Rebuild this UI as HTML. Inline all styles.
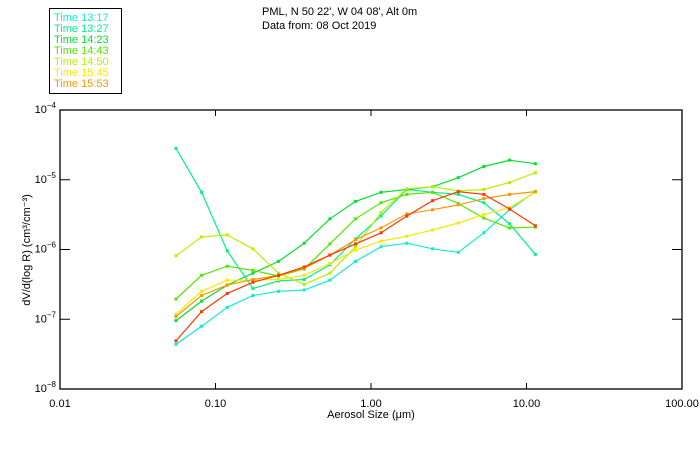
<!DOCTYPE html>
<html><head><meta charset="utf-8">
<style>
body{margin:0;background:#fff;}
svg{display:block;font-family:"Liberation Sans",sans-serif;}
</style></head>
<body>
<svg id="chart" width="700" height="450" viewBox="0 0 700 450">
  <rect x="0" y="0" width="700" height="450" fill="#fff"/>
  <g>
    <rect x="49.5" y="8.5" width="72" height="85" fill="none" stroke="#000" stroke-width="1"/>
    <g id="legendItems" font-size="11"></g>
  </g>
  <text x="262" y="15" font-size="11" fill="#000">PML, N 50 22', W 04 08', Alt 0m</text>
  <text x="262" y="29" font-size="11" fill="#000">Data from: 08 Oct 2019</text>
  <g id="axes"></g>
  <g id="series"></g>
  <text x="371" y="418" font-size="11" text-anchor="middle">Aerosol Size (μm)</text>
  <text transform="translate(30,250) rotate(-90)" font-size="11" text-anchor="middle">dV/d(log R) (cm³/cm⁻³)</text>
</svg>
<script>
const sizes = [0.0557,0.0814,0.119,0.174,0.254,0.372,0.544,0.795,1.16,1.70,2.49,3.64,5.32,7.78,11.4];
const seriesNames = ["Time 13:17","Time 13:27","Time 14:23","Time 14:43","Time 14:50","Time 15:45","Time 15:53","Time 16:05"];
const seriesColors = ["#10ecd0","#00f090","#00e030","#50e800","#b8f000","#f8e800","#f89800","#ff3800"];
// log10 of dV/dlogR
const log1317 = [-7.36,-7.10,-6.83,-6.66,-6.60,-6.58,-6.44,-6.17,-5.96,-5.91,-5.99,-6.04,-5.76,-5.43,-5.17];
const log1327 = [-4.55,-5.18,-6.02,-6.56,-6.45,-6.43,-6.22,-5.85,-5.52,-5.14,-5.18,-5.21,-5.33,-5.63,-6.07];
const log1423 = [-7.02,-6.74,-6.51,-6.34,-6.17,-5.91,-5.56,-5.31,-5.18,-5.14,-5.10,-4.97,-4.81,-4.72,-4.77];
const log1443 = [-6.71,-6.37,-6.24,-6.30,-6.38,-6.28,-5.92,-5.56,-5.33,-5.21,-5.18,-5.34,-5.55,-5.69,-5.68];
const log1450 = [-6.09,-5.82,-5.79,-5.99,-6.34,-6.50,-6.34,-5.96,-5.47,-5.13,-5.10,-5.16,-5.14,-5.04,-4.90];
const log1545 = [-6.93,-6.60,-6.44,-6.44,-6.43,-6.37,-6.20,-6.01,-5.88,-5.81,-5.72,-5.62,-5.50,-5.40,-5.18];
const log1553 = [-6.96,-6.66,-6.51,-6.43,-6.37,-6.27,-6.08,-5.86,-5.69,-5.49,-5.43,-5.36,-5.27,-5.21,-5.17];
const log1605 = [-7.31,-6.89,-6.63,-6.47,-6.37,-6.25,-6.08,-5.92,-5.76,-5.52,-5.30,-5.17,-5.21,-5.42,-5.66];
const allSeries = [log1317,log1327,log1423,log1443,log1450,log1545,log1553,log1605];
const xTickVals = [0.01,0.1,1,10,100];
const xTickLabels = ["0.01","0.10","1.00","10.00","100.00"];
const yTickExps = [-4,-5,-6,-7,-8];

const NS="http://www.w3.org/2000/svg";
const L=60,R=682,T=110,B=389;
function xs(v){return L+(Math.log10(v)+2)/4*(R-L);}
function ys(e){return T+(-4-e)/4*(B-T);}
function mk(tag,attrs,parent){const el=document.createElementNS(NS,tag);for(const k in attrs)el.setAttribute(k,attrs[k]);parent.appendChild(el);return el;}

const axes=document.getElementById('axes');
const frame=mk('rect',{x:L,y:T,width:R-L,height:B-T,fill:'none',stroke:'#000','stroke-width':1.3},axes);


xTickVals.forEach((v,i)=>{
  const x=xs(v);
  const t=mk('line',{x1:x,x2:x,y1:B,y2:B-6,stroke:'#000'},axes);
  
  
  const t2=mk('line',{x1:x,x2:x,y1:T,y2:T+6,stroke:'#000'},axes);
  
  
  const lb=mk('text',{x:x,y:B+18,'font-size':11,'text-anchor':'middle'},axes);
  lb.textContent=xTickLabels[i];
  
  
});
yTickExps.forEach(e=>{
  const y=ys(e);
  const t=mk('line',{x1:L,x2:L+10,y1:y,y2:y,stroke:'#000'},axes);
  
  
  const t2=mk('line',{x1:R,x2:R-10,y1:y,y2:y,stroke:'#000'},axes);
  
  
  const lb=mk('text',{x:L-4,y:y+3,'font-size':11,'text-anchor':'end'},axes);
  
  
  const a=document.createElementNS(NS,'tspan');a.textContent='10';lb.appendChild(a);
  const b=document.createElementNS(NS,'tspan');b.setAttribute('dy','-5');b.setAttribute('font-size','8');b.textContent=String(e).replace('-','−');lb.appendChild(b);
});

const sg=document.getElementById('series');
allSeries.forEach((vals,si)=>{
  const g=mk('g',{},sg);
  
  
  const pts=vals.map((e,i)=>xs(sizes[i]).toFixed(1)+','+ys(e).toFixed(1)).join(' ');
  const pl=mk('polyline',{points:pts,fill:'none',stroke:seriesColors[si],'stroke-width':1.2},g);
  
  
  vals.forEach((e,i)=>{
    const p=mk('rect',{x:xs(sizes[i])-1.5,y:ys(e)-1.5,width:3,height:3,fill:seriesColors[si]},g);
    
    
  });
});

const lg=document.getElementById('legendItems');
seriesNames.slice(0,7).forEach((n,i)=>{
  const t=mk('text',{x:54,y:21+i*11,fill:seriesColors[i]},lg);
  t.textContent=n;
  
  
});
</script>
</body></html>
